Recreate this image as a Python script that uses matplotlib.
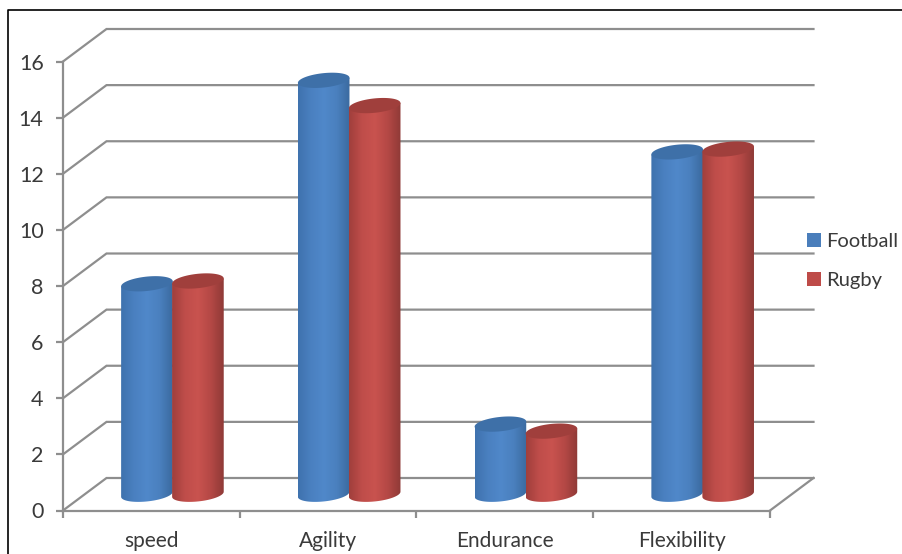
import numpy as np
import matplotlib
matplotlib.use("Agg")
import matplotlib.pyplot as plt
from matplotlib.colors import LinearSegmentedColormap
from matplotlib.lines import Line2D
from matplotlib.patches import Patch, Polygon

categories = ["speed", "Agility", "Endurance", "Flexibility"]
football = [7.5, 14.75, 2.5, 12.2]
rugby = [7.6, 13.85, 2.25, 12.3]
yticks = [0, 2, 4, 6, 8, 10, 12, 14, 16]

W, H = 903, 554
plt.rcParams["font.family"] = ["Lato", "DejaVu Sans"]
text_col = "#3a3a3a"
grid_col = "#8e8e8e"

fig = plt.figure(figsize=(W / 100, H / 100), dpi=100)
# axes box is the front face of the fake 3d chart
x0, x1, y0, y1 = 63, 770, 510.5, 61.5
ax = fig.add_axes([x0 / W, 1 - y0 / H, (x1 - x0) / W, (y0 - y1) / H])
ax.set_xlim(0, len(categories))
ax.set_ylim(0, 16)
ax.patch.set_visible(False)

px_x = len(categories) / (x1 - x0)
px_y = 16 / (y0 - y1)
dx = 43.5 * px_x  # depth of the floor
dy = 32.5 * px_y


def cylinder(cx, val, cmap, top_col):
    a = 25.8 * px_x
    b = 7.2 * px_y
    k = 0.1 * 25.5 * px_y  # ellipses lean up to the right
    base = dy / 2
    t = np.linspace(np.pi, 2 * np.pi, 60)
    low_x = cx + a * np.cos(t)
    low_y = base + b * np.sin(t) + k * np.cos(t)
    top = base + val
    body = np.column_stack([
        np.r_[low_x, cx + a, cx - a],
        np.r_[low_y, top + k, top - k],
    ])
    poly = Polygon(body, closed=True, transform=ax.transData, fc="none", ec="none")
    ax.add_patch(poly)
    im = ax.imshow(np.linspace(0, 1, 128)[None, :], cmap=cmap, aspect="auto",
                   extent=(cx - a, cx + a, 0, top + 1), zorder=3, origin="lower")
    im.set_clip_path(poly)
    # top cap
    t2 = np.linspace(0, 2 * np.pi, 100)
    cap = np.column_stack([
        cx + a * np.cos(t2),
        top + b * np.sin(t2) + k * np.cos(t2),
    ])
    ax.add_patch(Polygon(cap, closed=True, fc=top_col, ec="none", zorder=4, clip_on=False))


blue = LinearSegmentedColormap.from_list("b", ["#3f72ae", "#4a80c0", "#5088ca", "#4a80be", "#3b6a9f"])
red = LinearSegmentedColormap.from_list("r", ["#a03f3c", "#bf4d4a", "#c9534f", "#b44845", "#8f3a37"])

# back wall gridlines with the slanted bit on the left
for v in yticks:
    ax.plot([0, dx, len(categories) + dx], [v, v + dy, v + dy], color=grid_col, lw=1.6,
            clip_on=False, zorder=1, solid_joinstyle="miter")
ax.plot([len(categories), len(categories) + dx], [0, dy], color=grid_col, lw=1.6,
        clip_on=False, zorder=1)

bw = 51 * px_x
for i in range(len(categories)):
    c = i + 0.5 + dx / 2 - 0.7 * px_x
    cylinder(c - bw / 2, football[i], blue, "#3e70a8")
    cylinder(c + bw / 2, rugby[i], red, "#a03f3c")

ax.set_xlim(0, len(categories))
ax.set_ylim(0, 16)

for s in ["top", "right"]:
    ax.spines[s].set_visible(False)
for s in ["left", "bottom"]:
    ax.spines[s].set_color(grid_col)
    ax.spines[s].set_linewidth(1.6)

ax.set_yticks(yticks)
ax.set_yticklabels([str(v) for v in yticks])
ax.set_xticks(range(len(categories) + 1))
ax.set_xticklabels([])
ax.set_xticks(np.arange(len(categories)) + 0.5, minor=True)
ax.set_xticklabels(categories, minor=True)
ax.tick_params(axis="both", which="major", color=grid_col, width=1.6, length=5)
ax.tick_params(axis="y", labelsize=15.5, labelcolor=text_col, pad=9)
ax.tick_params(axis="x", which="minor", length=0, labelsize=15, labelcolor=text_col, pad=15)

handles = [Patch(fc="#4a7ebb", ec="none", label="Football"),
           Patch(fc="#be4b48", ec="none", label="Rugby")]
fig.legend(handles=handles, loc="center left", bbox_to_anchor=(801 / W, 1 - 261 / H),
           frameon=False, fontsize=14.5, labelcolor=text_col, handlelength=0.7, handleheight=0.7,
           handletextpad=0.25, labelspacing=1.1, borderpad=0.3, borderaxespad=0)

# thin black frame, only left and top show in the picture
fig.add_artist(Line2D([8 / W, 8 / W, 1], [0, 1 - 10 / H, 1 - 10 / H], color="black", lw=1.2))

fig.savefig("out.png", dpi=100)
